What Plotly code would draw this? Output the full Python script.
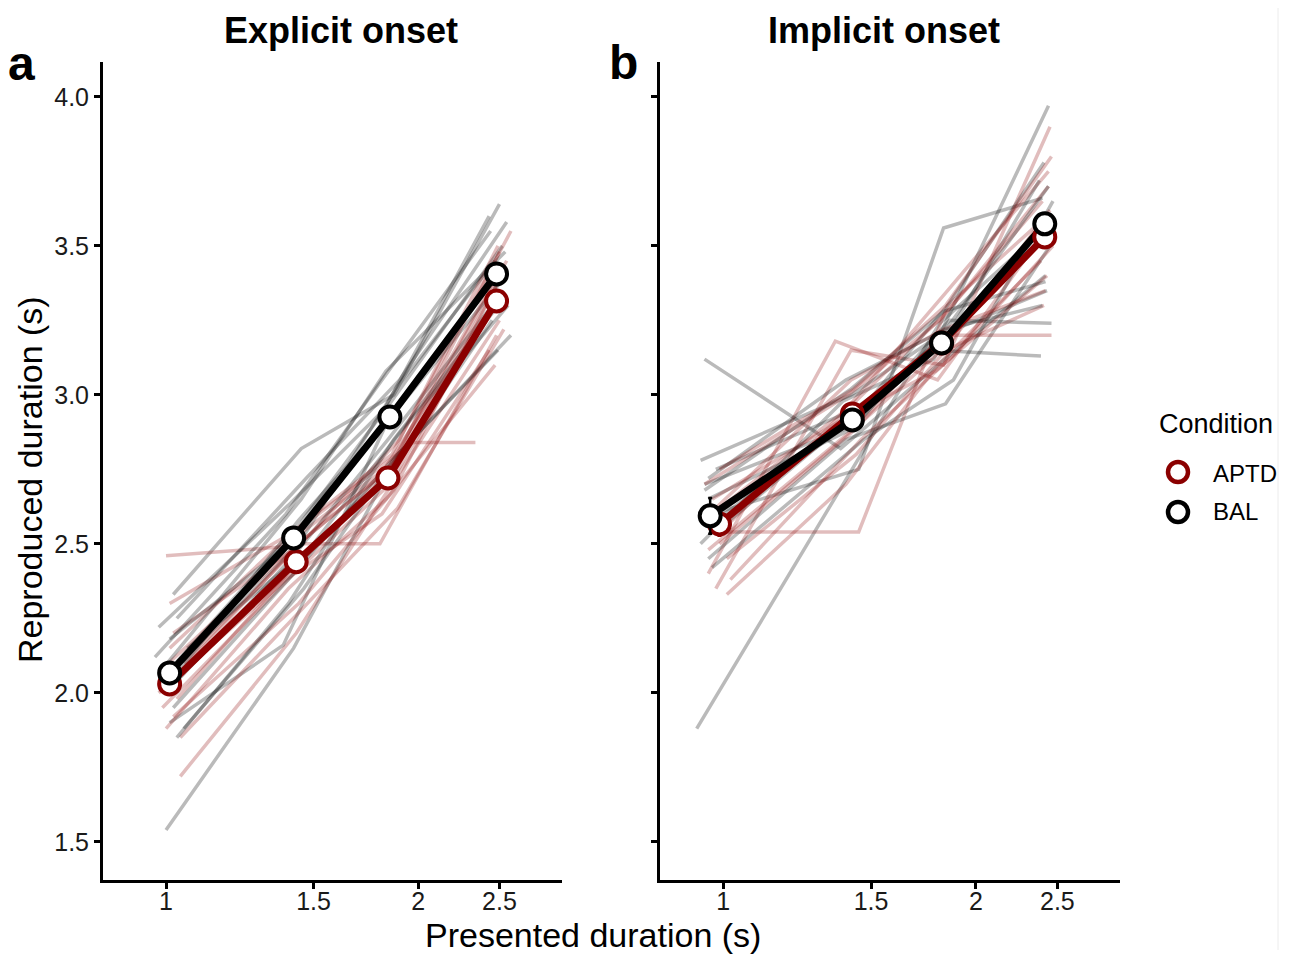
import plotly.graph_objects as go

# ---------------- data ----------------
conditions = ["APTD", "BAL"]
panel_titles = ["Explicit onset", "Implicit onset"]
x_ticks = [1, 1.5, 2, 2.5]
x_tick_labels = ["1", "1.5", "2", "2.5"]
y_ticks = [1.5, 2.0, 2.5, 3.0, 3.5, 4.0]
y_tick_labels = ["1.5", "2.0", "2.5", "3.0", "3.5", "4.0"]

# group means (panel a = explicit, panel b = implicit)
a_aptd_x = [1.01, 1.43, 1.84, 2.48]
a_aptd_y = [2.030, 2.440, 2.721, 3.315]
a_aptd_err = [0.03, 0.03, 0.03, 0.03]
a_bal_x = [1.01, 1.42, 1.85, 2.48]
a_bal_y = [2.067, 2.520, 2.926, 3.406]
a_bal_err = [0.03, 0.03, 0.03, 0.03]

b_aptd_x = [0.99, 1.425, 1.82, 2.415]
b_aptd_y = [2.567, 2.936, 3.174, 3.530]
b_aptd_err = [0.04, 0.03, 0.03, 0.03]
b_bal_x = [0.965, 1.425, 1.82, 2.415]
b_bal_y = [2.594, 2.916, 3.174, 3.574]
b_bal_err = [0.06, 0.03, 0.03, 0.03]

# individual subjects, explicit onset
a_bal_subj_x = [
    [1.00, 1.42, 1.85, 2.45], [1.02, 1.45, 1.87, 2.50], [0.98, 1.40, 1.82, 2.43],
    [1.03, 1.47, 1.90, 2.55], [1.01, 1.38, 1.83, 2.48], [0.99, 1.43, 1.86, 2.52],
    [1.04, 1.44, 1.88, 2.47], [1.00, 1.41, 1.84, 2.53], [1.05, 1.46, 1.89, 2.58],
    [0.97, 1.39, 1.81, 2.44], [1.02, 1.42, 1.86, 2.49], [1.06, 1.48, 1.91, 2.56],
    [1.00, 1.44, 1.85, 2.51], [1.03, 1.40, 1.87, 2.46], [0.99, 1.45, 1.83, 2.54],
    [1.01, 1.43, 1.88, 2.50],
]
a_bal_subj_y = [
    [1.54, 2.15, 2.75, 3.25], [2.33, 2.82, 3.00, 3.64], [2.22, 2.63, 2.95, 3.60],
    [2.25, 2.72, 3.05, 3.58], [1.90, 2.16, 2.90, 3.40], [2.05, 2.55, 2.98, 3.50],
    [2.10, 2.50, 3.02, 3.45], [2.00, 2.45, 2.85, 3.35], [1.88, 2.35, 2.80, 3.20],
    [2.12, 2.60, 3.05, 3.55], [1.95, 2.40, 2.78, 3.15], [2.15, 2.48, 2.88, 3.30],
    [2.02, 2.58, 2.92, 3.38], [1.85, 2.30, 2.85, 3.28], [2.08, 2.65, 3.08, 3.48],
    [2.18, 2.52, 2.95, 3.42],
]
a_aptd_subj_x = [
    [1.01, 1.44, 1.97, 2.34], [1.00, 1.38, 1.82, 2.45], [1.02, 1.45, 1.80, 2.48],
    [1.04, 1.43, 1.86, 2.50], [0.99, 1.42, 1.85, 2.52], [1.03, 1.46, 1.88, 2.55],
    [1.00, 1.40, 1.83, 2.47], [1.05, 1.47, 1.90, 2.58], [0.98, 1.39, 1.81, 2.43],
    [1.02, 1.44, 1.87, 2.51], [1.01, 1.43, 1.86, 2.49], [1.04, 1.45, 1.89, 2.53],
    [0.99, 1.41, 1.84, 2.46], [1.03, 1.42, 1.85, 2.54], [1.00, 1.44, 1.86, 2.50],
]
a_aptd_subj_y = [
    [2.30, 2.55, 2.84, 2.84], [2.46, 2.49, 2.75, 3.30], [2.20, 2.50, 2.50, 3.20],
    [1.72, 2.20, 2.70, 3.25], [1.95, 2.40, 2.70, 3.35], [2.05, 2.45, 2.78, 3.45],
    [1.88, 2.35, 2.65, 3.10], [2.10, 2.52, 2.85, 3.55], [2.00, 2.38, 2.60, 3.15],
    [1.92, 2.30, 2.68, 3.40], [2.15, 2.55, 2.80, 3.50], [1.85, 2.28, 2.62, 3.22],
    [2.08, 2.48, 2.75, 3.38], [1.98, 2.42, 2.72, 3.42], [2.02, 2.50, 2.76, 3.48],
]

# individual subjects, implicit onset
b_bal_subj_x = [
    [0.93, 1.81, 2.40], [0.95, 1.38, 1.80, 2.42], [0.97, 1.45, 1.83, 2.40],
    [0.96, 1.40, 1.84, 2.45], [0.94, 1.42, 1.81, 2.44], [0.98, 1.43, 1.79, 2.39],
    [0.95, 1.44, 1.86, 2.46], [0.96, 1.41, 1.82, 2.43], [0.99, 1.46, 1.85, 2.41],
    [0.94, 1.39, 1.78, 2.38], [0.97, 1.47, 1.88, 2.47], [0.95, 1.42, 1.83, 2.42],
    [0.98, 1.44, 1.80, 2.44], [0.96, 1.40, 1.84, 2.40],
]
b_bal_subj_y = [
    [1.88, 3.24, 3.55], [3.12, 2.82, 3.10, 3.40], [2.60, 2.75, 3.56, 3.66],
    [2.45, 2.85, 2.97, 3.50], [2.78, 3.00, 3.20, 3.97], [2.75, 2.95, 3.15, 3.13],
    [2.70, 2.90, 3.25, 3.24], [2.65, 2.88, 3.20, 3.35], [2.55, 2.95, 3.30, 3.78],
    [2.50, 2.98, 3.12, 3.72], [2.42, 2.85, 3.05, 3.65], [2.68, 3.02, 3.28, 3.38],
    [2.58, 2.92, 3.18, 3.70], [2.72, 3.05, 3.22, 3.30],
]
b_aptd_subj_x = [
    [0.99, 1.45, 1.85, 2.43], [0.96, 1.36, 1.80, 2.42], [0.98, 1.42, 1.83, 2.45],
    [0.97, 1.40, 1.85, 2.44], [0.99, 1.43, 1.82, 2.46], [1.01, 1.44, 1.84, 2.41],
    [0.95, 1.41, 1.81, 2.40], [1.02, 1.46, 1.86, 2.47], [0.97, 1.39, 1.79, 2.43],
    [1.00, 1.44, 1.85, 2.44], [0.98, 1.42, 1.83, 2.42], [0.96, 1.45, 1.87, 2.45],
    [1.01, 1.40, 1.80, 2.39], [0.99, 1.43, 1.84, 2.46],
]
b_aptd_subj_y = [
    [2.54, 2.54, 3.30, 3.60], [2.40, 3.18, 3.05, 3.55], [2.35, 3.15, 3.10, 3.90],
    [2.60, 2.95, 3.35, 3.75], [2.50, 2.88, 3.20, 3.20], [2.45, 2.80, 3.15, 3.30],
    [2.70, 3.00, 3.25, 3.65], [2.38, 2.85, 3.12, 3.50], [2.65, 2.92, 3.08, 3.40],
    [2.55, 2.98, 3.28, 3.70], [2.62, 3.05, 3.22, 3.35], [2.48, 2.90, 3.18, 3.62],
    [2.33, 2.70, 3.10, 3.45], [2.75, 3.02, 3.30, 3.80],
]

# ---------------- styling ----------------
FONT = "Liberation Sans, Arial, Helvetica, sans-serif"
RED = "#8B0000"
BLACK = "#000000"
RED_T = "rgba(139,0,0,0.26)"
BLACK_T = "rgba(0,0,0,0.27)"

# page has an 8px body margin: size the figure so it fits the 1301x955 window
OFF = 8
W, H = 1301 - OFF, 955 - OFF
# plot area in window pixels: x 103..1120, y 62..880
ML, MR, MT, MB = 103 - OFF, 1301 - 1120, 62 - OFF, 955 - 880
PW, PH = 1120 - 103, 880 - 62


def px(xp):
    return (xp - 103) / PW


def py(yp):
    return (880 - yp) / PH


fig = go.Figure()

panels = [
    ("x", "y", a_bal_subj_x, a_bal_subj_y, a_aptd_subj_x, a_aptd_subj_y,
     (a_aptd_x, a_aptd_y, a_aptd_err), (a_bal_x, a_bal_y, a_bal_err)),
    ("x2", "y2", b_bal_subj_x, b_bal_subj_y, b_aptd_subj_x, b_aptd_subj_y,
     (b_aptd_x, b_aptd_y, b_aptd_err), (b_bal_x, b_bal_y, b_bal_err)),
]

for xa, ya, bsx, bsy, asx, asy, aptd, bal in panels:
    n = max(len(bsx), len(asx))
    for i in range(n):
        if i < len(bsx):
            fig.add_trace(go.Scatter(x=bsx[i], y=bsy[i], mode="lines", xaxis=xa, yaxis=ya,
                                     line=dict(color=BLACK_T, width=3.5), showlegend=False,
                                     hoverinfo="skip"))
        if i < len(asx):
            fig.add_trace(go.Scatter(x=asx[i], y=asy[i], mode="lines", xaxis=xa, yaxis=ya,
                                     line=dict(color=RED_T, width=3.5), showlegend=False,
                                     hoverinfo="skip"))
    for (mx, my, me), col in [(aptd, RED), (bal, BLACK)]:
        fig.add_trace(go.Scatter(x=mx, y=my, mode="lines", xaxis=xa, yaxis=ya,
                                 line=dict(color=col, width=7), showlegend=False))
    for (mx, my, me), col in [(aptd, RED), (bal, BLACK)]:
        fig.add_trace(go.Scatter(x=mx, y=my, mode="markers", xaxis=xa, yaxis=ya,
                                 error_y=dict(type="data", array=me, color=col,
                                              thickness=2.5, width=2),
                                 marker=dict(symbol="circle", size=21, color="white",
                                             line=dict(color=col, width=4)),
                                 showlegend=False))

axis_common = dict(
    showline=True, linecolor="black", linewidth=3,
    ticks="outside", ticklen=6, tickwidth=2.5, tickcolor="black",
    showgrid=False, zeroline=False, mirror=False,
    tickfont=dict(family=FONT, size=25, color="#1a1a1a"),
)
xr = [-0.0752, 0.4725]
yr = [1.372, 4.117]
fig.update_layout(
    xaxis=dict(domain=[0, 0.4513], type="log", range=xr, tickvals=x_ticks,
               ticktext=x_tick_labels, anchor="y", ticklabelstandoff=-9, **axis_common),
    xaxis2=dict(domain=[0.5477, 1.0], type="log", range=xr, tickvals=x_ticks,
                ticktext=x_tick_labels, anchor="y2", ticklabelstandoff=-9, **axis_common),
    yaxis=dict(domain=[0, 1], range=yr, tickvals=y_ticks, ticktext=y_tick_labels,
               anchor="x", **axis_common),
    yaxis2=dict(domain=[0, 1], range=yr, tickvals=y_ticks, ticktext=y_tick_labels,
                anchor="x2", showticklabels=False, **axis_common),
)

annotations = [
    dict(text="<b>" + panel_titles[0] + "</b>", x=px(340.5), y=py(31), xref="paper", yref="paper",
         showarrow=False, font=dict(family=FONT, size=36, color="black"),
         xanchor="center", yanchor="middle", borderpad=0),
    dict(text="<b>" + panel_titles[1] + "</b>", x=px(884), y=py(31), xref="paper", yref="paper",
         showarrow=False, font=dict(family=FONT, size=36, color="black"),
         xanchor="center", yanchor="middle", borderpad=0),
    dict(text="<b>a</b>", x=px(21), y=py(64), xref="paper", yref="paper",
         showarrow=False, font=dict(family=FONT, size=48, color="black"),
         xanchor="center", yanchor="middle"),
    dict(text="<b>b</b>", x=px(623), y=py(62), xref="paper", yref="paper",
         showarrow=False, font=dict(family=FONT, size=48, color="black"),
         xanchor="center", yanchor="middle"),
    dict(text="Presented duration (s)", x=px(593), y=py(935), xref="paper", yref="paper",
         showarrow=False, font=dict(family=FONT, size=34, color="black"),
         xanchor="center", yanchor="middle"),
    dict(text="Reproduced duration (s)", x=px(30), y=py(480), xref="paper", yref="paper",
         showarrow=False, textangle=-90, font=dict(family=FONT, size=34, color="black"),
         xanchor="center", yanchor="middle"),
    dict(text="Condition", x=px(1157), y=py(424), xref="paper", yref="paper",
         showarrow=False, font=dict(family=FONT, size=27, color="black"),
         xanchor="left", yanchor="middle"),
    dict(text=conditions[0], x=px(1211), y=py(473), xref="paper", yref="paper",
         showarrow=False, font=dict(family=FONT, size=24, color="black"),
         xanchor="left", yanchor="middle"),
    dict(text=conditions[1], x=px(1211), y=py(512), xref="paper", yref="paper",
         showarrow=False, font=dict(family=FONT, size=24, color="black"),
         xanchor="left", yanchor="middle"),
]

shapes = []
for cy, col in [(472, RED), (512, BLACK)]:
    shapes.append(dict(type="circle", xref="paper", yref="paper",
                       xsizemode="pixel", ysizemode="pixel",
                       xanchor=px(1178), yanchor=py(cy),
                       x0=-10, x1=10, y0=-10, y1=10,
                       line=dict(color=col, width=4.5), fillcolor="white"))
shapes.append(dict(type="line", xref="paper", yref="paper",
                   x0=px(1278), x1=px(1278), y0=py(950), y1=py(8),
                   line=dict(color="#ececec", width=1)))

fig.update_layout(
    width=W, height=H,
    margin=dict(l=ML, r=MR, t=MT, b=MB),
    paper_bgcolor="white", plot_bgcolor="white",
    showlegend=False,
    annotations=annotations, shapes=shapes,
    font=dict(family=FONT),
)

fig.write_html("out.html")
